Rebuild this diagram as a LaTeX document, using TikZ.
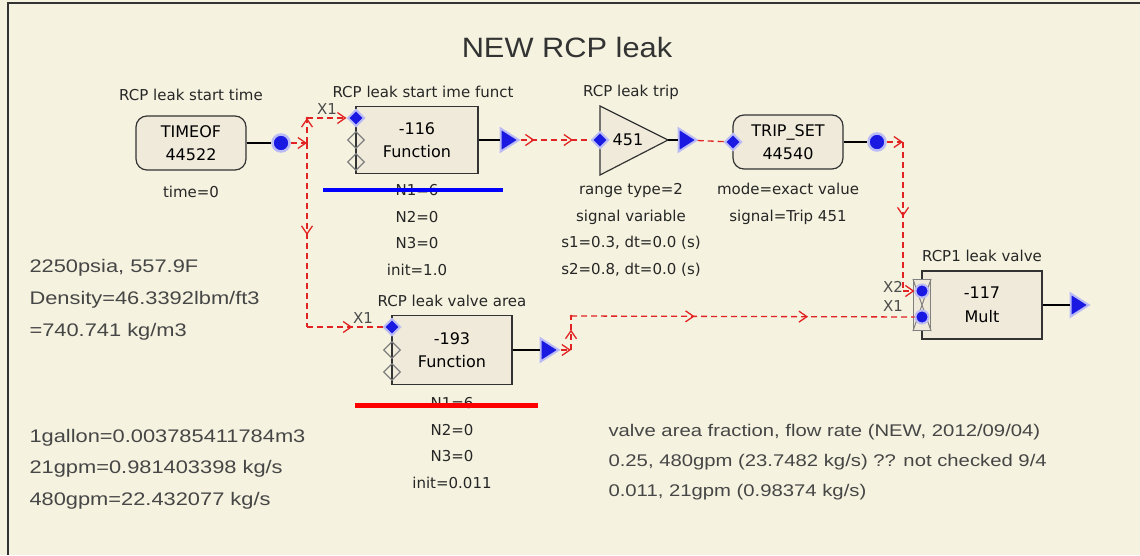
\documentclass[tikz,border=0pt]{standalone}
\usepackage{fontspec}
\usetikzlibrary{shapes.geometric, arrows.meta, decorations.markings}
\newfontfamily\lblfont{DejaVu Sans}
\newfontfamily\notefont[FakeStretch=1.2]{Liberation Sans}
\newfontfamily\titlefont[FakeStretch=1.1]{Liberation Sans}
\definecolor{panel}{RGB}{245,243,223}
\definecolor{boxfill}{RGB}{240,234,218}
\definecolor{sigred}{RGB}{225,35,35}
\definecolor{portblue}{RGB}{25,25,225}
\definecolor{notegray}{RGB}{70,70,70}
\tikzset{
  lbl/.style={font=\lblfont\fontsize{15}{18}\selectfont, text=black!85},
  parm/.style={lbl, align=center, font=\lblfont\fontsize{15}{26.7}\selectfont},
  blk/.style={draw=black!80, fill=boxfill, line width=1.2pt, minimum width=122pt, minimum height=67pt,
    align=center, font=\lblfont\fontsize{16}{23.5}\selectfont},
  rblk/.style={blk, rounded corners=11pt, minimum width=110pt, minimum height=54pt},
  wire/.style={line width=2.5pt, black},
  sig/.style={sigred, line width=1.3pt, dash pattern=on 6pt off 4pt, >={Straight Barb[length=8pt, width=11pt]}},
  midarr/.style={postaction={decorate, decoration={markings,
    mark=at position #1 with {\arrow[sigred, solid]{Straight Barb[length=8pt, width=11pt]}}}}},
  dotout/.style={circle, fill=portblue, draw=portblue!30, line width=2.5pt, inner sep=0, minimum size=17pt},
  dotin/.style={circle, fill=portblue, draw=portblue!30, line width=2pt, inner sep=0, minimum size=13pt},
  triout/.style={isosceles triangle, isosceles triangle apex angle=65, fill=portblue, draw=portblue!30,
    line width=2pt, inner sep=0, minimum height=18pt},
  inport/.style={diamond, fill=portblue, draw=portblue!30, line width=2pt, inner sep=0, minimum size=17pt},
  inportoff/.style={diamond, draw=gray, line width=1.2pt, inner sep=0, minimum size=17pt},
  note/.style={anchor=west, align=left, text=notegray},
}
\begin{document}
\begin{tikzpicture}[x=1pt, y=-1pt]
  \fill[panel] (0,0) rectangle (1140,555);
  \useasboundingbox (0,0) rectangle (1140,555);
  \draw[black!80, line width=2pt] (8,555) -- (8,3) -- (1140,3);

  \node[font=\titlefont\fontsize{28}{32}\selectfont, text=black!80] (title) at (567,47) {NEW RCP leak};

  % start time
  \node[rblk] (timeof) at (191,143) {TIMEOF\\44522};
  \node[lbl] (timeoflbl) at (191,95) {RCP leak start time};
  \node[lbl] (timeofpar) at (191,192) {time=0};
  \node[dotout] (timeofout) at (281,143) {};
  \draw[wire] (timeof) -- (timeofout);

  % start time function
  \node[blk] (fn116) at (417,140) {-116\\Function};
  \node[lbl] (fn116lbl) at (423,92) {RCP leak start ime funct};
  \node[parm] (fn116par) at (417,230) {N1=6\\N2=0\\N3=0\\init=1.0};
  \draw[blue, line width=4pt] (323,190) -- (503,190);
  \node[inportoff] (fn116x2) at (356,140) {};
  \node[inportoff] (fn116x3) at (356,162) {};
  \node[inport] (fn116x1) at (356,118) {};
  \node[lbl, text=black!70] (fn116x1lbl) at (327,109) {X1};
  \node[triout] (fn116out) at (507,140) {};
  \draw[wire] (fn116.east) -- (fn116out);

  % trip
  \draw[black!80, fill=boxfill, line width=1.2pt] (600,106) -- (668,140) -- (600,175) -- cycle;
  \coordinate (tripapex) at (668,140);
  \node[font=\lblfont\fontsize{16}{18}\selectfont] (trip451) at (628,140) {451};
  \node[lbl] (triplbl) at (631,92) {RCP leak trip};
  \node[parm] (trippar) at (631,230) {range type=2\\signal variable\\s1=0.3, dt=0.0 (s)\\s2=0.8, dt=0.0 (s)};
  \node[inport] (tripin) at (600,140) {};
  \node[triout] (tripout) at (685,140) {};
  \draw[wire] (tripapex) -- (tripout);

  % trip set
  \node[rblk] (tripset) at (788,142) {TRIP\_SET\\44540};
  \node[parm] (tripsetpar) at (788,204) {mode=exact value\\signal=Trip 451};
  \node[inport] (tripsetin) at (733,142) {};
  \node[dotout] (tripsetout) at (877,142) {};
  \draw[wire] (tripset) -- (tripsetout);

  % valve area function
  \node[blk, minimum width=120pt, minimum height=69pt] (fn193) at (452,350) {-193\\Function};
  \node[lbl] (fn193lbl) at (452,301) {RCP leak valve area};
  \node[parm] (fn193par) at (452,443) {N1=6\\N2=0\\N3=0\\init=0.011};
  \draw[red, line width=5pt] (355,405) -- (538,405);
  \node[inportoff] (fn193x2) at (392,350) {};
  \node[inportoff] (fn193x3) at (392,372) {};
  \node[inport] (fn193x1) at (392,327) {};
  \node[lbl, text=black!70] (fn193x1lbl) at (363,318) {X1};
  \node[triout] (fn193out) at (547,350) {};
  \draw[wire] (fn193.east) -- (fn193out);

  % valve
  \node[blk, minimum width=120pt, minimum height=68pt] (mult) at (982,305) {-117\\Mult};
  \node[lbl] (multlbl) at (982,256) {RCP1 leak valve};
  \node[draw=gray, fill=boxfill, line width=1.2pt, minimum width=17pt, minimum height=51pt, inner sep=0] (multports) at (922,305) {};
  \draw[gray, line width=1pt] (multports.north west) -- (multports.south east)
    (multports.north east) -- (multports.south west);
  \node[dotin] (multx2) at (922,291) {};
  \node[dotin] (multx1) at (922,317) {};
  \node[lbl, text=black!70] (multx2lbl) at (893,287) {X2};
  \node[lbl, text=black!70] (multx1lbl) at (893,306) {X1};
  \node[triout] (multout) at (1077,305) {};
  \draw[wire] (mult.east) -- (multout);

  % signal lines
  \coordinate (j1) at (307,143);
  \coordinate (c1) at (307,118);
  \coordinate (c2) at (307,327);
  \coordinate (c3) at (903,142);
  \coordinate (c4) at (903,291);
  \coordinate (c5) at (571,350);
  \coordinate (c6) at (571,316);
  \draw[sig, ->] (timeofout) -- (j1);
  \draw[sig, ->] (j1) -- (c1);
  \draw[sig, ->] (c1) -- (fn116x1);
  \draw[sig, midarr=0.5] (j1) -- (c2);
  \draw[sig, midarr=0.6] (c2) -- (fn193x1);
  \draw[sig, midarr=0.2, midarr=0.75] (fn116out) -- (tripin);
  \draw[sig] (tripout) -- (tripsetin);
  \draw[sig, ->] (tripsetout) -- (c3);
  \draw[sig, midarr=0.5] (c3) -- (c4);
  \draw[sig, ->] (c4) -- (multx2);
  \draw[sig, ->] (fn193out) -- (c5);
  \draw[sig, midarr=0.6] (c5) -- (c6);
  \draw[sig, midarr=0.36, midarr=0.69] (c6) -- (multx1);
  \fill[sigred] (c1) circle (1.5pt) (c6) circle (1.5pt);

  % notes
  \node[note, font=\notefont\fontsize{18.2}{32}\selectfont] (fluid) at (26,300)
    {2250psia, 557.9F\\Density=46.3392lbm/ft3\\=740.741 kg/m3};
  \node[note, font=\notefont\fontsize{18.2}{31.5}\selectfont] (flow) at (26,469)
    {1gallon=0.003785411784m3\\21gpm=0.981403398 kg/s\\480gpm=22.432077 kg/s};
  \node[note, font=\notefont\fontsize{16.9}{30}\selectfont] (valvenote) at (605,462)
    {valve area fraction, flow rate (NEW, 2012/09/04)\\0.25, 480gpm (23.7482 kg/s) ?? not checked 9/4\\0.011, 21gpm (0.98374 kg/s)};
\end{tikzpicture}
\end{document}
